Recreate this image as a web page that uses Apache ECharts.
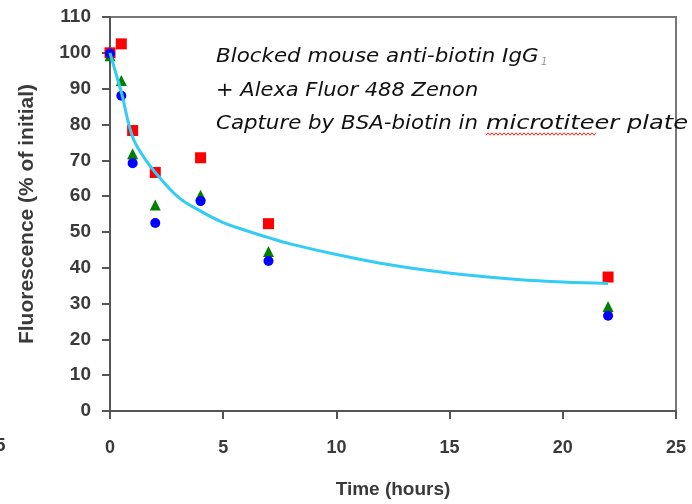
<!DOCTYPE html>
<html><head><meta charset="utf-8">
<script src="https://cdn.jsdelivr.net/npm/echarts@6/dist/echarts.min.js"></script>
<style>html,body{margin:0;padding:0;background:#fff}#c{width:692px;height:504px}</style>
</head><body><div id="c"></div>
<script>
// ---- data ----
const times = [0, 0.5, 1, 2, 4, 7, 22];
const redSquares = [100, 102.5, 78.3, 66.6, 70.7, 52.3, 37.4];
const greenTriangles = [99.2, 92.3, 71.8, 57.5, 60.2, 44.5, 29.2];
const blueCircles = [99.8, 88.0, 69.2, 52.5, 58.6, 41.9, 26.6];
const fitTimes = [0, 0.25, 0.5, 1, 1.5, 2, 3, 4, 5, 6, 7, 8, 10, 12, 14, 16, 18, 20, 22];
const fitValues = [100, 94.5, 89, 76.5, 70.8, 66.6, 59.8, 55.8, 52.6, 50.4, 48.4, 46.6, 43.7, 41.2, 39.3, 37.8, 36.7, 36.0, 35.6];
const xTitle = 'Time (hours)';
const yTitle = 'Fluorescence (% of initial)';
const noteLine1 = 'Blocked mouse anti-biotin IgG';
const noteSub = '1';
const noteLine2 = '+ Alexa Fluor 488 Zenon';
const noteLine3a = 'Capture by BSA-biotin in';
const noteLine3b = 'microtiteer plate';

const pairs = (xs, ys) => xs.map((x, i) => [x, ys[i]]);

const chart = echarts.init(document.getElementById('c'), null, {renderer: 'canvas'});

const FF = '"Liberation Sans", Arial, sans-serif';
const tickFont = {fontFamily: FF, fontWeight: 'bold', fontSize: 19, color: '#3a3a3a'};
const noteFont = 'italic 20px "DejaVu Sans", sans-serif';

// fit a text element between two x positions
function fitText(text, x0, x1, y) {
  const w = echarts.format.getTextRect ? echarts.format.getTextRect(text, noteFont).width : null;
  const s = w ? (x1 - x0) / w : 1.1;
  return {type: 'text', x: x0, y: y, scaleX: s, style: {text: text, font: noteFont, fill: '#111'}};
}

// wavy spell-check underline (decoration only)
const wave = [];
for (let x = 486, k = 0; x <= 597; x += 2, k++) wave.push([x, 134 + (k % 2 ? -1.2 : 1.2)]);

chart.setOption({
  backgroundColor: '#fff',
  animation: false,
  grid: {left: 110, right: 16, top: 17, bottom: 91, show: true, borderColor: '#777', borderWidth: 2, backgroundColor: 'transparent'},
  xAxis: {
    type: 'value', min: 0, max: 25, interval: 5,
    axisLine: {show: true, onZero: false, lineStyle: {color: '#555', width: 2}},
    axisTick: {show: true, length: 8, lineStyle: {color: '#555', width: 2}},
    axisLabel: Object.assign({margin: 28}, tickFont, {fontSize: 18}),
    splitLine: {show: false},
    name: xTitle, nameLocation: 'middle', nameGap: 69,
    nameTextStyle: {fontFamily: FF, fontWeight: 'bold', fontSize: 19, color: '#3a3a3a'}
  },
  yAxis: {
    type: 'value', min: 0, max: 110, interval: 10,
    axisLine: {show: true, onZero: false, lineStyle: {color: '#555', width: 2}},
    axisTick: {show: true, length: 8, lineStyle: {color: '#555', width: 2}},
    axisLabel: Object.assign({margin: 19}, tickFont),
    splitLine: {show: false},
    name: yTitle, nameLocation: 'middle', nameGap: 72,
    nameTextStyle: {fontFamily: FF, fontWeight: 'bold', fontSize: 21, color: '#3a3a3a'}
  },
  graphic: [
    {type: 'text', left: -5, top: 436, style: {text: '5', font: 'bold 19px ' + FF, fill: '#3a3a3a'}},
    {type: 'text', x: 216, y: 47, scaleX: 1.07, style: {text: noteLine1, font: noteFont, fill: '#111'}},
    {type: 'text', x: 541, y: 57, style: {text: noteSub, font: 'italic 10px "DejaVu Sans", sans-serif', fill: '#999'}},
    {type: 'text', x: 216, y: 80.5, scaleX: 1.05, style: {text: noteLine2, font: noteFont, fill: '#111'}},
    fitText(noteLine3a, 216, 478, 114),
    fitText(noteLine3b, 486, 688, 114),
    {type: 'polyline', shape: {points: wave}, style: {stroke: '#ff2020', lineWidth: 1, fill: null}}
  ],
  series: [
    {type: 'scatter', name: 'red', data: pairs(times, redSquares), symbol: 'rect', symbolSize: 11, itemStyle: {color: '#ff0000', opacity: 1}, z: 2},
    {type: 'scatter', name: 'green', data: pairs(times, greenTriangles), symbol: 'triangle', symbolSize: 11, itemStyle: {color: '#008000', opacity: 1}, z: 3},
    {type: 'scatter', name: 'blue', data: pairs(times, blueCircles), symbol: 'circle', symbolSize: 10, itemStyle: {color: '#0000ff', opacity: 1}, z: 4},
    {type: 'line', name: 'fit', data: pairs(fitTimes, fitValues), smooth: 0.4, showSymbol: false, lineStyle: {color: '#33ccf5', width: 3}, z: 5}
  ]
});
</script>
</body></html>
